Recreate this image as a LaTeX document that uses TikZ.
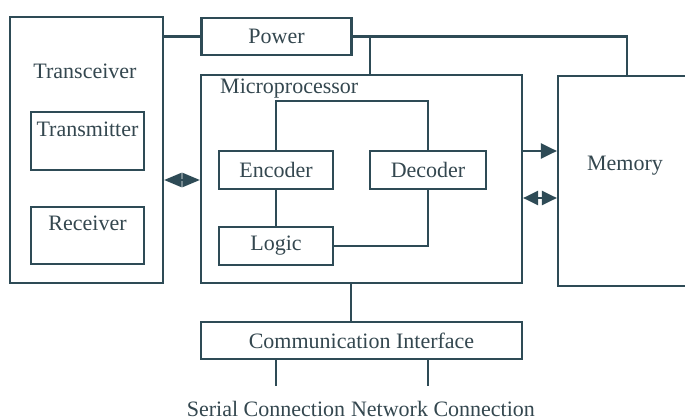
\documentclass[tikz,border=0pt]{standalone}
\usepackage{fontspec}
\setmainfont{Liberation Serif}
\usetikzlibrary{arrows.meta}
\definecolor{ink}{HTML}{2E4B56}
\definecolor{txt}{HTML}{34474F}
\tikzset{
  box/.style={draw=ink, line width=2.2pt, rectangle, inner sep=0pt},
  lbl/.style={text=txt, font=\fontsize{22}{25}\selectfont, inner sep=1pt},
  wire/.style={draw=ink, line width=2.2pt},
  tip/.style={-{Triangle[length=16pt,width=15pt]}},
  dtip/.style={{Triangle[length=#1,width=14pt]}-{Triangle[length=#1,width=14pt]}},
}
\begin{document}
\begin{tikzpicture}[x=1pt,y=-1pt]
\useasboundingbox (0,0) rectangle (685,420);
\fill[white] (0,0) rectangle (685,420);
\begin{scope}
\clip (0,0) rectangle (685,420);

% transceiver with its two sub-blocks
\node[box, minimum width=153pt, minimum height=266pt] (trx) at (86.5,150) {};
\node[lbl] (trxl) at (85,71) {Transceiver};
\node[box, minimum width=113pt, minimum height=58pt] (tx) at (87.5,141) {};
\node[lbl] (txl) at (87.5,129) {Transmitter};
\node[box, minimum width=113pt, minimum height=57pt] (rx) at (87.5,235.5) {};
\node[lbl] (rxl) at (87.5,223) {Receiver};

% power supply
\node[box, lbl, minimum width=150pt, minimum height=37pt] (pwr) at (276.5,36.5) {Power};

% microprocessor and its internal blocks
\node[box, minimum width=321pt, minimum height=208pt] (mp) at (361.5,179) {};
\node[lbl, anchor=west] (mpl) at (219,89) {Microprocessor};
\node[box, lbl, minimum width=114pt, minimum height=38pt] (enc) at (276,170) {Encoder};
\node[box, lbl, minimum width=116pt, minimum height=38pt] (dec) at (428,170) {Decoder};
\node[box, lbl, minimum width=114pt, minimum height=38pt] (logic) at (276,246) {Logic};

% memory (runs past the right edge)
\node[box, minimum width=190pt, minimum height=210pt] (mem) at (653,181) {};
\node[lbl] (meml) at (625,166) {Memory};

% communication interface and its outputs
\node[box, lbl, minimum width=321pt, minimum height=37pt] (ci) at (361.5,340.5) {Communication Interface};
\node[lbl, anchor=north] (serial) at (266,400) {Serial Connection};
\node[lbl, anchor=north] (network) at (443,400) {Network Connection};
\coordinate (sEnd) at (276,386);
\coordinate (nEnd) at (428,386);

% power distribution
\draw[wire] (trx.east |- pwr.west) -- (pwr.west);
\draw[wire] (pwr.east) -- (627,36.5) -- (627,0 |- mem.north);
\draw[wire] (370,36.5) -- (370,0 |- mp.north);

% internal microprocessor loop
\draw[wire] (enc.north) -- (276,101) -- (428,101) -- (dec.north);
\draw[wire] (enc.south) -- (logic.north);
\draw[wire] (dec.south) -- (dec.south |- logic.east) -- (logic.east);

% data paths
\draw[wire, dtip=17.5pt] (trx.east |- 0,180) -- (mp.west |- 0,180);
\draw[wire, tip] (mp.east |- 0,151) -- (mem.west |- 0,151);
\draw[wire, dtip=15pt] (mp.east |- 0,198) -- (mem.west |- 0,198);

% interface links
\draw[wire] (351,0 |- mp.south) -- (351,0 |- ci.north);
\draw[wire] (276,0 |- ci.south) -- (sEnd);
\draw[wire] (428,0 |- ci.south) -- (nEnd);
\end{scope}
\end{tikzpicture}
\end{document}
